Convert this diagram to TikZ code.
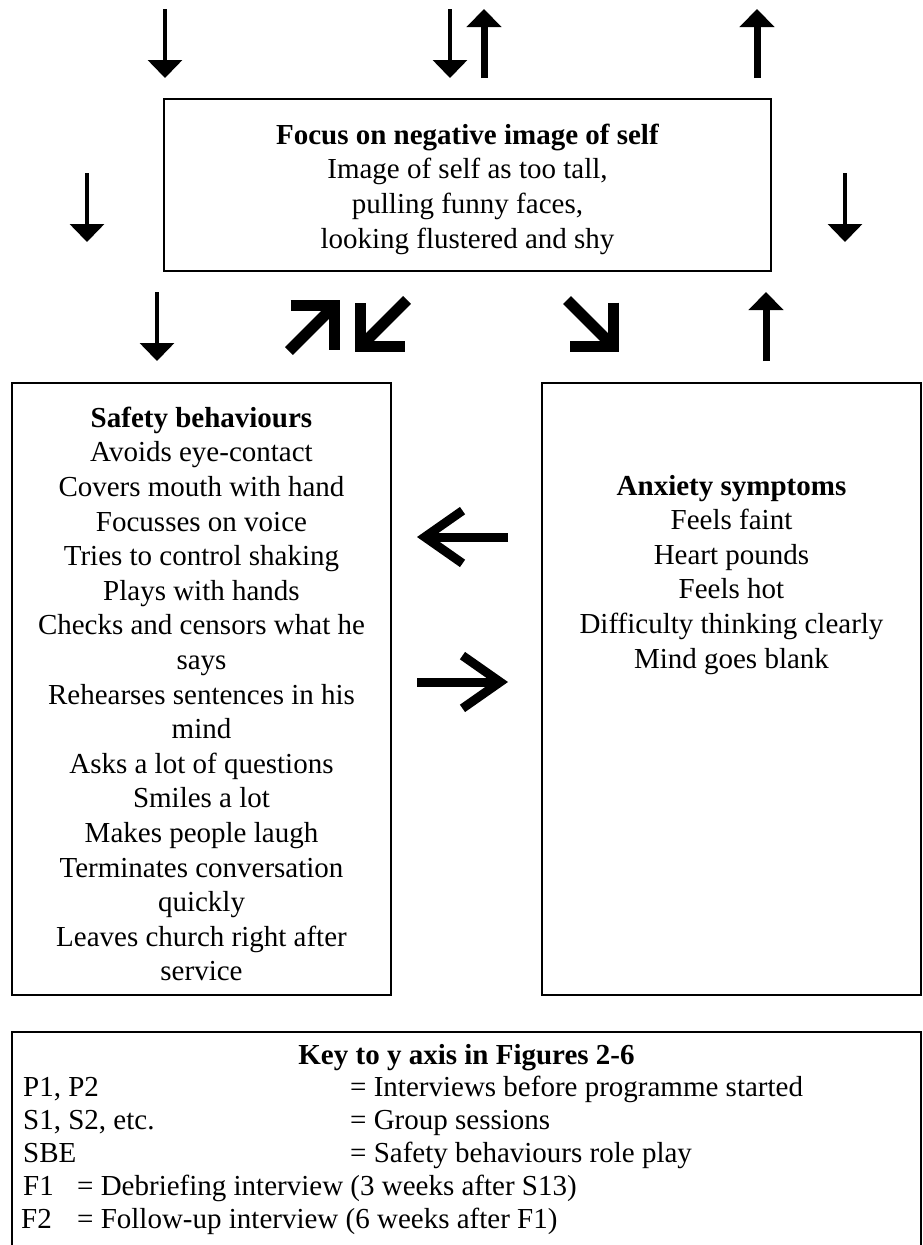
\documentclass[tikz,border=0pt]{standalone}
\usepackage{fontspec}
\setmainfont{Liberation Serif}
\usetikzlibrary{arrows.meta, positioning}

\begin{document}
\begin{tikzpicture}[x=1pt, y=-1pt,
    box/.style={draw, line width=2.5pt, inner sep=0pt},
    txt/.style={font=\fontsize{29}{34.6}\selectfont, align=center, inner sep=0pt},
    keytxt/.style={font=\fontsize{29}{33}\selectfont, inner sep=0pt, anchor=base west},
    slimarrow/.style={line width=3.5pt, -{Triangle[length=18pt, width=34pt]}},
    boldarrow/.style={line width=7pt, -{Triangle[length=18pt, width=34pt]}},
    tiltarrow/.style={line width=11pt, -{Straight Barb[angle=90:44pt, sharp]}},
    sidearrow/.style={line width=9pt, -{Straight Barb[angle=70:46pt, sharp]}}]
    \useasboundingbox (0,0) rectangle (923,1245);
    % Focus box
    \node[box, minimum width=607pt, minimum height=172pt] (focus) at (467.5,185) {};
    \node[txt, below=26pt of focus.north] (focustxt)
        {\textbf{Focus on negative image of self}\\Image of self as too tall,\\pulling funny faces,\\looking flustered and shy};
    % Arrows above the focus box
    \draw[slimarrow] (165,9) -- (165,78);
    \draw[slimarrow] (450,9) -- (450,78);
    \draw[boldarrow] (484,78) -- (484,9);
    \draw[boldarrow] (757,78) -- (757,9);
    \draw[slimarrow] (87,173) -- (87,242);
    \draw[slimarrow] (845,173) -- (845,242);
    % Arrows below the focus box
    \draw[slimarrow] (157,292) -- (157,361);
    \draw[tiltarrow] (289,351) -- (340,300);
    \draw[tiltarrow] (407,300) -- (355,352);
    \draw[tiltarrow] (567,300) -- (619,352);
    \draw[boldarrow] (766,361) -- (766,292);
    % Safety behaviours
    \node[box, minimum width=379pt, minimum height=612pt] (safety) at (201.5,689) {};
    \node[txt, below=25pt of safety.north] (safetytxt)
        {\textbf{Safety behaviours}\\Avoids eye-contact\\Covers mouth with hand\\Focusses on voice\\Tries to control shaking\\Plays with hands\\Checks and censors what he\\says\\Rehearses sentences in his\\mind\\Asks a lot of questions\\Smiles a lot\\Makes people laugh\\Terminates conversation\\quickly\\Leaves church right after\\service};
    % Anxiety symptoms
    \node[box, minimum width=379pt, minimum height=612pt] (anxiety) at (731.5,689) {};
    \node[txt, below=93pt of anxiety.north] (anxietytxt)
        {\textbf{Anxiety symptoms}\\Feels faint\\Heart pounds\\Feels hot\\Difficulty thinking clearly\\Mind goes blank};
    % Arrows between the boxes
    \draw[sidearrow] (508,537) -- (417,537);
    \draw[sidearrow] (417,682) -- (508,682);
    % Key
    \draw[line width=2.5pt] (12,1245) |- (921,1032) -- (921,1245);
    \node[font=\fontsize{29}{33}\selectfont\bfseries, inner sep=0pt, anchor=base] (keytitle) at (466.5,1064) {Key to y axis in Figures 2-6};
    \node[keytxt] (pa) at (23,1096) {P1, P2};
    \node[keytxt] (pad) at (350,1096) {= Interviews before programme started};
    \node[keytxt] (sa) at (23,1129) {S1, S2, etc.};
    \node[keytxt] (sad) at (350,1129) {= Group sessions};
    \node[keytxt] (sbe) at (23,1162) {SBE};
    \node[keytxt] (sbed) at (350,1162) {= Safety behaviours role play};
    \node[keytxt] (fa) at (23,1195) {F1};
    \node[keytxt] (fad) at (77,1195) {= Debriefing interview (3 weeks after S13)};
    \node[keytxt] (fb) at (21,1228) {F2};
    \node[keytxt] (fbd) at (77,1228) {= Follow-up interview (6 weeks after F1)};
\end{tikzpicture}
\end{document}
